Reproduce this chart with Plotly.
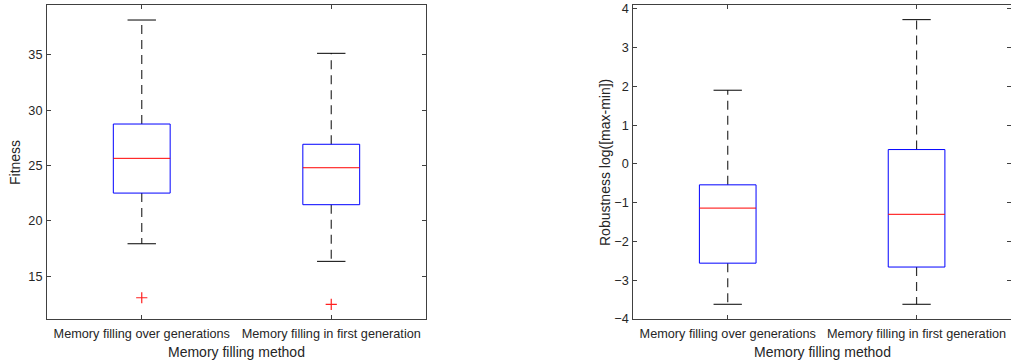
import plotly.graph_objects as go

# Two grouping methods compared on both panels
methods = ["Memory filling over generations", "Memory filling in first generation"]
positions = [1, 2]

# Fitness box statistics
fit_lower = [17.94, 16.35]
fit_q1 = [22.52, 21.47]
fit_median = [25.66, 24.81]
fit_q3 = [28.76, 26.93]
fit_upper = [38.16, 35.15]
fit_outliers = [[13.06], [12.46]]

# Robustness box statistics
rob_lower = [-3.62, -3.62]
rob_q1 = [-2.56, -2.66]
rob_median = [-1.14, -1.30]
rob_q3 = [-0.54, 0.37]
rob_upper = [1.90, 3.72]
rob_outliers = [[], []]

fit_ticks = [15, 20, 25, 30, 35]
rob_ticks = [-4, -3, -2, -1, 0, 1, 2, 3, 4]

BOX_HALF = 0.15
CAP_HALF = 0.075
AXIS_COLOR = "#404040"
TEXT_COLOR = "#262626"
FONT = "Liberation Sans"
TICK_SIZE = 12.7
TITLE_SIZE = 14

fig = go.Figure()


def add_boxes(xref, yref, lower, q1, med, q3, upper, outliers):
    bx, by, mx, my, wx, wy, cx, cy, ox, oy = ([] for _ in range(10))
    for p, lo, a, m, b, hi, outs in zip(positions, lower, q1, med, q3, upper, outliers):
        bx += [p - BOX_HALF, p + BOX_HALF, p + BOX_HALF, p - BOX_HALF, p - BOX_HALF, None]
        by += [a, a, b, b, a, None]
        mx += [p - BOX_HALF, p + BOX_HALF, None]
        my += [m, m, None]
        wx += [p, p, None, p, p, None]
        wy += [b, hi, None, a, lo, None]
        cx += [p - CAP_HALF, p + CAP_HALF, None, p - CAP_HALF, p + CAP_HALF, None]
        cy += [hi, hi, None, lo, lo, None]
        ox += [p] * len(outs)
        oy += list(outs)
    common = dict(xaxis=xref, yaxis=yref, showlegend=False, hoverinfo="skip")
    fig.add_trace(go.Scatter(x=wx, y=wy, mode="lines",
                             line=dict(color="#303030", width=1.2, dash="9px,6px"), **common))
    fig.add_trace(go.Scatter(x=cx, y=cy, mode="lines",
                             line=dict(color="black", width=1), **common))
    fig.add_trace(go.Scatter(x=bx, y=by, mode="lines",
                             line=dict(color="#0000ff", width=1), **common))
    fig.add_trace(go.Scatter(x=mx, y=my, mode="lines",
                             line=dict(color="#ff0000", width=1), **common))
    if ox:
        fig.add_trace(go.Scatter(x=ox, y=oy, mode="markers",
                                 marker=dict(symbol="cross-thin", size=8,
                                             line=dict(color="#ff2020", width=1.2)),
                                 **common))


add_boxes("x", "y", fit_lower, fit_q1, fit_median, fit_q3, fit_upper, fit_outliers)
add_boxes("x2", "y2", rob_lower, rob_q1, rob_median, rob_q3, rob_upper, rob_outliers)

y_dom = [1 - 319 / 364, 1 - 5.3 / 364]
axis_common = dict(showgrid=False, zeroline=False, showline=True, linecolor=AXIS_COLOR,
                   linewidth=1, mirror="ticks", ticks="inside", ticklen=4,
                   tickcolor=AXIS_COLOR, automargin=False,
                   tickfont=dict(family=FONT, size=TICK_SIZE, color=TEXT_COLOR))

fig.update_layout(
    template="none",
    width=1011, height=364,
    margin=dict(l=0, r=0, t=0, b=0, autoexpand=False),
    paper_bgcolor="white", plot_bgcolor="white",
    xaxis=dict(domain=[47 / 1011, 426 / 1011], range=[0.5, 2.5], tickvals=positions,
               ticktext=methods, anchor="y", ticklabelstandoff=3, **axis_common),
    yaxis=dict(domain=y_dom, range=[11.14, 39.49], tickvals=fit_ticks, anchor="x",
               ticklabelstandoff=1, **axis_common),
    xaxis2=dict(domain=[633.3 / 1011, 1.0], range=[0.5, 2.5], tickvals=positions,
                ticktext=methods, anchor="y2", ticklabelstandoff=3, **axis_common),
    yaxis2=dict(domain=y_dom, range=[-4, 4.09], tickvals=rob_ticks, anchor="x2",
                ticklabelstandoff=1, **axis_common),
    annotations=[
        dict(text="Memory filling method", xref="paper", yref="paper",
             x=236.5 / 1011, y=1 - 352 / 364, xanchor="center", yanchor="middle",
             showarrow=False, font=dict(family=FONT, size=TITLE_SIZE, color=TEXT_COLOR)),
        dict(text="Memory filling method", xref="paper", yref="paper",
             x=822 / 1011, y=1 - 352 / 364, xanchor="center", yanchor="middle",
             showarrow=False, font=dict(family=FONT, size=TITLE_SIZE, color=TEXT_COLOR)),
        dict(text="Fitness", xref="paper", yref="paper", textangle=-90,
             x=15 / 1011, y=1 - 163 / 364, xanchor="center", yanchor="middle",
             showarrow=False, font=dict(family=FONT, size=TITLE_SIZE, color=TEXT_COLOR)),
        dict(text="Robustness log([max-min])", xref="paper", yref="paper", textangle=-90,
             x=605 / 1011, y=1 - 163 / 364, xanchor="center", yanchor="middle",
             showarrow=False, font=dict(family=FONT, size=TITLE_SIZE, color=TEXT_COLOR)),
    ],
)

fig.write_html("out.html")
